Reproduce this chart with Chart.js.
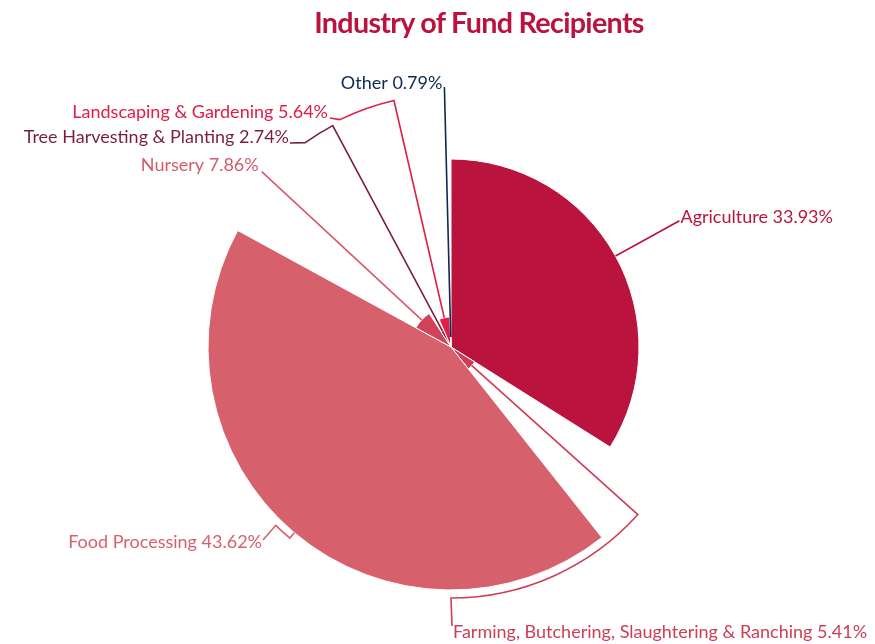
<!DOCTYPE html>
<html>
<head>
<meta charset="utf-8">
<script src="https://cdn.jsdelivr.net/npm/chart.js@4/dist/chart.umd.min.js"></script>
<style>
html,body{margin:0;padding:0;background:#fff;}
#wrap{position:relative;width:875px;height:644px;overflow:hidden;}
#c{position:absolute;left:0;top:0;}
#title{position:absolute;top:7px;left:0;width:958px;text-align:center;font-family:Lato,sans-serif;font-weight:700;font-size:29px;line-height:29px;color:#BA143E;letter-spacing:-0.7px;transform:scaleX(0.99);transform-origin:479px 0;white-space:nowrap;}
</style>
</head>
<body>
<div id="wrap">
<canvas id="c" width="875" height="644"></canvas>
<div id="title">Industry of Fund Recipients</div>
</div>
<script>
// ---- data ----
const categories = ["Agriculture", "Farming, Butchering, Slaughtering & Ranching", "Food Processing", "Nursery", "Tree Harvesting & Planting", "Landscaping & Gardening", "Other"];
const shares = [33.93, 5.41, 43.62, 7.86, 2.74, 5.64, 0.79];   // percent (slice angle)
const radiusValues = [188, 28, 243, 40, 18, 30, 10];            // slice radius value (z)

// ---- styles ----
const sliceColors = ["#BA143E", "#CF3D55", "#D7606D", "#D0435A", "#7B1E3E", "#E11D48", "#0D2B4E"];
const labelColors = ["#BA143E", "#CF3D55", "#D7606D", "#D65A6B", "#7B1E3E", "#E11D48", "#0D2B4E"];

// connector layout: radial length, optional arc along radius to angle (deg from top, clockwise),
// optional final point (relative to centre), text anchor offset from last point
const connectorLayout = [
  {r: 261, text: {dx: 1, dy: 2, align: "left"}},
  {r: 251, arcTo: 180, to: [1, 279], text: {dx: 1, dy: 12, align: "left"}},
  {r: 250, arcTo: 224.5, to: [-188, 193], text: {dx: -1, dy: 8, align: "right"}},
  {r: 258, text: {dx: -3, dy: -1, align: "right"}},
  {r: 251, arcTo: 324.5, to: [-161, -204], text: {dx: -1, dy: 0, align: "right"}},
  {r: 253, arcTo: 334, to: [-121, -229], text: {dx: -2, dy: 0, align: "right"}},
  {r: 260, text: {dx: -2, dy: 2, align: "right"}}
];

const toRad = d => (d - 90) * Math.PI / 180;

const connectorPlugin = {
  id: "connectors",
  afterDatasetsDraw(chart) {
    const meta = chart.getDatasetMeta(0);
    const ctx = chart.ctx;
    const scale = chart.scales.r;
    const k = scale.drawingArea / 250;
    ctx.save();
    meta.data.forEach((arc, i) => {
      const p = arc.getProps(["x", "y", "startAngle", "endAngle", "outerRadius"], true);
      const cx = p.x, cy = p.y;
      const mid = (p.startAngle + p.endAngle) / 2;
      const L = connectorLayout[i];
      const col = labelColors[i];
      ctx.strokeStyle = col;
      ctx.lineWidth = 1.6;
      ctx.lineJoin = "miter";
      ctx.beginPath();
      ctx.moveTo(cx + p.outerRadius * Math.cos(mid), cy + p.outerRadius * Math.sin(mid));
      const r1 = L.r * k;
      let px = cx + r1 * Math.cos(mid), py = cy + r1 * Math.sin(mid);
      ctx.lineTo(px, py);
      if (L.arcTo !== undefined) {
        const a2 = toRad(L.arcTo);
        ctx.arc(cx, cy, r1, mid, a2, a2 < mid);
        px = cx + r1 * Math.cos(a2); py = cy + r1 * Math.sin(a2);
      }
      if (L.to) {
        px = cx + L.to[0] * k; py = cy + L.to[1] * k;
        ctx.lineTo(px, py);
      }
      ctx.stroke();
      ctx.fillStyle = col;
      ctx.font = "18px Lato, sans-serif";
      ctx.textAlign = L.text.align;
      ctx.textBaseline = "alphabetic";
      ctx.fillText(categories[i] + " " + shares[i].toFixed(2) + "%", px + L.text.dx, py + L.text.dy);
    });
    ctx.restore();
  }
};

new Chart(document.getElementById("c"), {
  type: "polarArea",
  data: {
    labels: categories,
    datasets: [{
      data: radiusValues,
      backgroundColor: sliceColors,
      borderColor: "#ffffff",
      borderWidth: 1,
      angle: c => shares[c.dataIndex] * 3.6,
      clip: false
    }]
  },
  options: {
    responsive: false,
    animation: false,
    layout: {padding: {top: 97, bottom: 47, left: 100, right: 73}},
    scales: {r: {display: false, min: 0, max: 250, startAngle: 0}},
    plugins: {legend: {display: false}, tooltip: {enabled: false}}
  },
  plugins: [connectorPlugin]
});
</script>
</body>
</html>
